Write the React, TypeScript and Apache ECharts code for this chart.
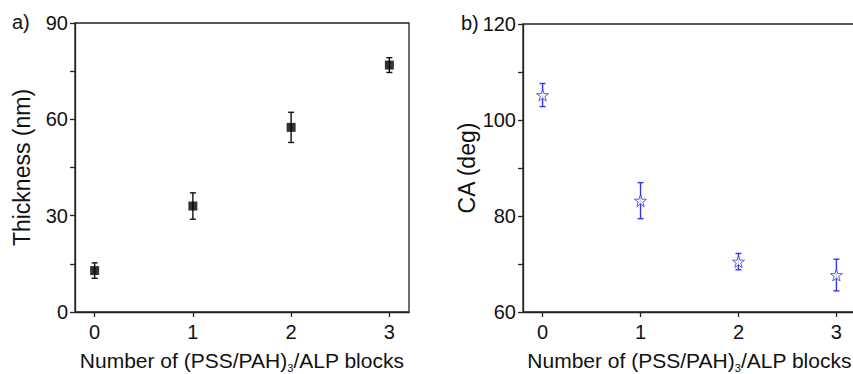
import React, { useEffect, useRef } from "react";
import * as echarts from "echarts";

const xValues = [0, 1, 2, 3];
const xTicks = [0, 1, 2, 3];
const thickness = [12.9, 33.0, 57.5, 76.9];
const thicknessErr = [2.4, 4.1, 4.7, 2.3];
const contactAngle = [105.2, 83.2, 70.5, 67.7];
const contactAngleErr = [2.4, 3.75, 1.7, 3.3];

const FONT = "Liberation Sans, Arial, sans-serif";
const BLUE = "#3434f2";
const STAR =
  "path://M50,2 L61.2,36.2 L97,36.2 L68,57.3 L79.1,91.5 L50,70.4 L20.9,91.5 L32,57.3 L3,36.2 L38.8,36.2 Z";

const errRender = (color: string) => (params: any, api: any) => {
  const x = api.value(0);
  const lo = api.value(1);
  const hi = api.value(2);
  const p1 = api.coord([x, hi]);
  const p2 = api.coord([x, lo]);
  const hw = 3;
  const st = { stroke: color, lineWidth: 1.4 };
  return {
    type: "group",
    children: [
      { type: "line", shape: { x1: p1[0], y1: p1[1], x2: p2[0], y2: p2[1] }, style: st },
      { type: "line", shape: { x1: p1[0] - hw, y1: p1[1], x2: p1[0] + hw, y2: p1[1] }, style: st },
      { type: "line", shape: { x1: p2[0] - hw, y1: p2[1], x2: p2[0] + hw, y2: p2[1] }, style: st },
    ],
  };
};

const xAxisCommon = (gridIndex: number) => ({
  type: "value",
  gridIndex,
  min: -0.2,
  max: 3.2,
  name: "Number of (PSS/PAH){sub|3}/ALP blocks",
  nameLocation: "middle",
  nameGap: 36,
  nameTextStyle: {
    fontSize: 21,
    fontFamily: FONT,
    color: "#111",
    rich: { sub: { fontSize: 11, fontFamily: FONT, color: "#111", padding: [14, 0, 0, 0] } },
  },
  splitLine: { show: false },
  axisLine: { show: true, onZero: false, lineStyle: { color: "#222", width: 1.3 } },
  axisTick: { show: true, inside: false, length: 5, customValues: xTicks, lineStyle: { color: "#222", width: 1.3 } },
  axisLabel: { customValues: xTicks, fontSize: 20, fontFamily: FONT, color: "#111", margin: 10 },
});

const yAxisCommon = (gridIndex: number, min: number, max: number, interval: number, name: string) => ({
  type: "value",
  gridIndex,
  min,
  max,
  interval,
  name,
  nameLocation: "middle",
  nameGap: 42,
  nameTextStyle: { fontSize: 23, fontFamily: FONT, color: "#111" },
  splitLine: { show: false },
  axisLine: { show: true, onZero: false, lineStyle: { color: "#222", width: 1.3 } },
  axisTick: { show: true, inside: false, length: 5, lineStyle: { color: "#222", width: 1.3 } },
  minorTick: { show: true, splitNumber: 2, length: 5, lineStyle: { color: "#222", width: 1.3 } },
  axisLabel: { fontSize: 20, fontFamily: FONT, color: "#111", margin: 7 },
});

export default function App() {
  const ref = useRef<HTMLDivElement>(null);
  useEffect(() => {
    if (!ref.current) return;
    const chart = echarts.init(ref.current, null, { renderer: "svg" });
    chart.setOption({
      animation: false,
      backgroundColor: "#fff",
      grid: [
        { left: 75, top: 23, width: 334, height: 289, outerBoundsMode: "none", containLabel: false, show: true, borderColor: "#222", borderWidth: 1.3, backgroundColor: "transparent" },
        { left: 523, top: 24, width: 333, height: 288, outerBoundsMode: "none", containLabel: false, show: true, borderColor: "#222", borderWidth: 1.3, backgroundColor: "transparent" },
      ],
      xAxis: [xAxisCommon(0), xAxisCommon(1)],
      yAxis: [
        yAxisCommon(0, 0, 90, 30, "Thickness (nm)"),
        yAxisCommon(1, 60, 120, 20, "CA (deg)"),
      ],
      graphic: [
        { type: "text", left: 12, top: 12, style: { text: "a)", font: `20px ${FONT}`, fill: "#111" } },
        { type: "text", left: 461, top: 13, style: { text: "b)", font: `20px ${FONT}`, fill: "#111" } },
      ],
      series: [
        {
          type: "custom",
          xAxisIndex: 0,
          yAxisIndex: 0,
          renderItem: errRender("#111"),
          encode: { x: 0, y: [1, 2] },
          data: xValues.map((x, i) => [x, thickness[i] - thicknessErr[i], thickness[i] + thicknessErr[i]]),
          z: 1,
        },
        {
          type: "scatter",
          xAxisIndex: 0,
          yAxisIndex: 0,
          symbol: "rect",
          symbolSize: 9,
          itemStyle: { color: "#000" },
          data: xValues.map((x, i) => [x, thickness[i]]),
          z: 2,
        },
        {
          type: "custom",
          xAxisIndex: 1,
          yAxisIndex: 1,
          renderItem: errRender(BLUE),
          encode: { x: 0, y: [1, 2] },
          data: xValues.map((x, i) => [x, contactAngle[i] - contactAngleErr[i], contactAngle[i] + contactAngleErr[i]]),
          z: 1,
        },
        {
          type: "scatter",
          xAxisIndex: 1,
          yAxisIndex: 1,
          symbol: STAR,
          symbolSize: 12,
          itemStyle: { color: "#fff", borderColor: BLUE, borderWidth: 1 },
          data: xValues.map((x, i) => [x, contactAngle[i]]),
          z: 2,
        },
      ],
    });
    return () => chart.dispose();
  }, []);
  return (
    <div
      ref={ref}
      style={{ position: "absolute", left: 0, top: 0, width: 853, height: 374, background: "#fff" }}
    />
  );
}
